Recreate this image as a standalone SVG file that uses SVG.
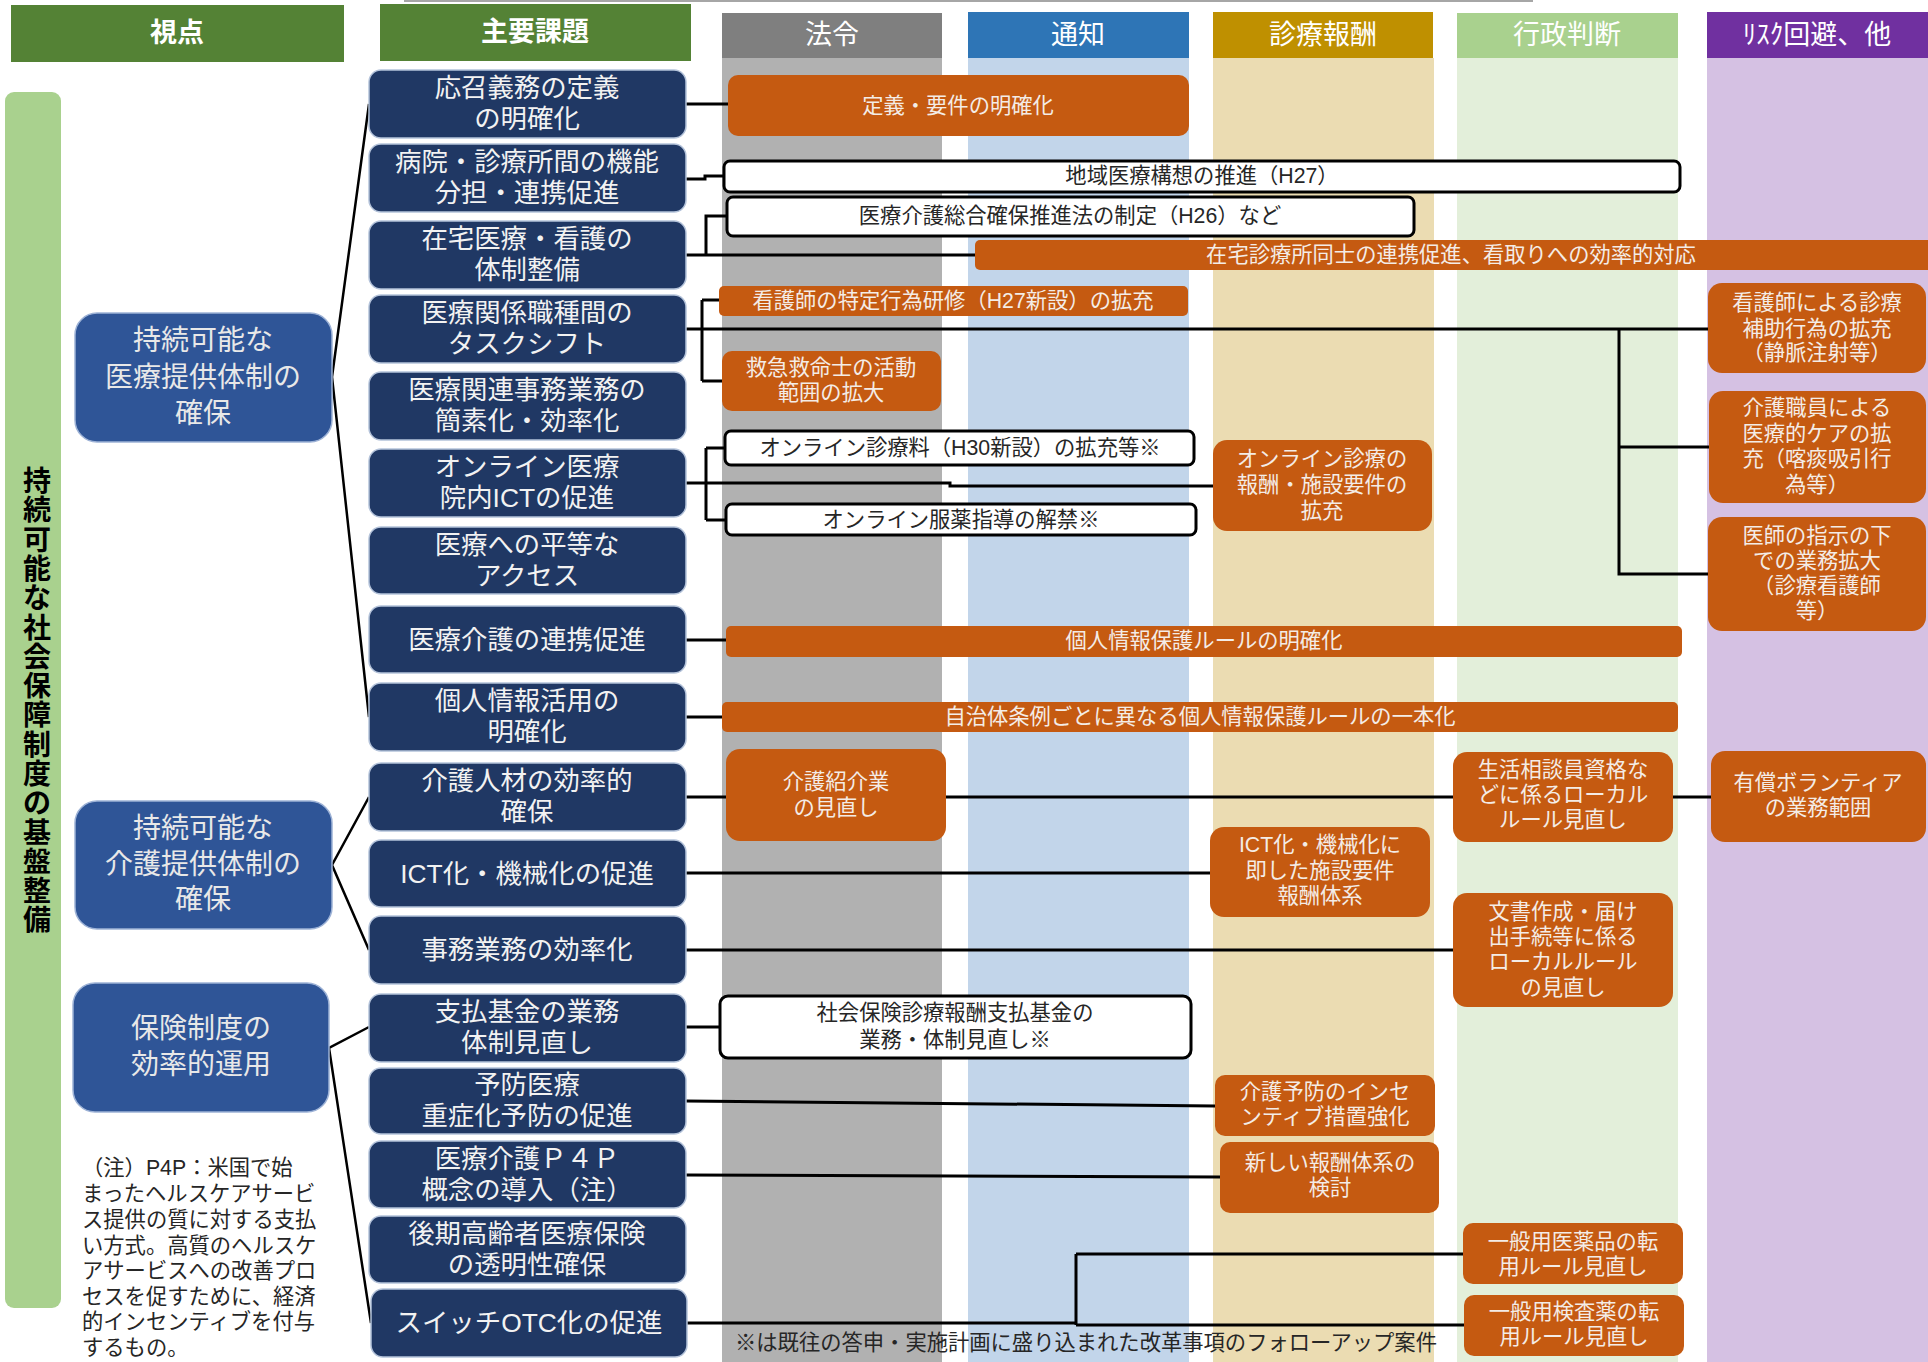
<svg xmlns="http://www.w3.org/2000/svg" width="1928" height="1362" viewBox="0 0 1928 1362">
<style>
text{font-family:"Liberation Sans","Noto Sans CJK JP",sans-serif;text-anchor:middle;dominant-baseline:central}
.hd{font-size:27px;fill:#FFFFFF}
.hdb{font-size:27px;fill:#FFFFFF;font-weight:bold}
.nd rect{fill:#203864;stroke:#B4C3DA;stroke-width:1.5}
.nd text{font-size:26.4px;fill:#F2F2F2}
.vp rect{fill:#2F5597;stroke:#9DB2D6;stroke-width:1.5}
.vp text{font-size:28px;fill:#E8E8E8}
.or rect{fill:#C55A11}
.or text{font-size:21.3px;fill:#F4ECE6}
.wb rect{fill:#FFFFFF;stroke:#000000;stroke-width:3}
.wb text{font-size:21.3px;fill:#262626}
.cn path{fill:none;stroke:#000000;stroke-width:3}
.fan path{fill:none;stroke:#000000;stroke-width:2.5}
.note{font-size:21.3px;fill:#262626;text-anchor:start}
.vt{font-size:28px;font-weight:bold;fill:#000000}
</style>

<!-- top rule -->
<line x1="404" y1="1" x2="1533" y2="1" stroke="#A6A6A6" stroke-width="2"/>

<!-- column backgrounds -->
<g id="columns">
  <rect x="722" y="58" width="220" height="1304" fill="#B1B1B1"/>
  <rect x="968" y="58" width="221" height="1304" fill="#C2D5EA"/>
  <rect x="1213" y="58" width="221" height="1304" fill="#EBDCB2"/>
  <rect x="1457" y="58" width="221" height="1304" fill="#E3EFDA"/>
  <rect x="1707" y="58" width="221" height="1304" fill="#D5C1E3"/>
</g>

<!-- headers -->
<g id="headers">
  <g id="h-viewpoint"><rect x="11" y="5" width="333" height="57" fill="#548235"/><text class="hdb" x="177" y="33">視点</text></g>
  <g id="h-issues"><rect x="380" y="4" width="311" height="57" fill="#548235"/><text class="hdb" x="535" y="32">主要課題</text></g>
  <g id="h-law"><rect x="722" y="13" width="220" height="45" fill="#7F7F7F"/><text class="hd" x="832" y="35">法令</text></g>
  <g id="h-notice"><rect x="968" y="12" width="221" height="46" fill="#2E75B6"/><text class="hd" x="1078" y="35">通知</text></g>
  <g id="h-fee"><rect x="1213" y="12" width="220" height="46" fill="#BF9000"/><text class="hd" x="1323" y="35">診療報酬</text></g>
  <g id="h-admin"><rect x="1457" y="13" width="221" height="45" fill="#A9D18E"/><text class="hd" x="1567" y="35">行政判断</text></g>
  <g id="h-risk"><rect x="1707" y="12" width="221" height="46" fill="#7030A0"/><text class="hd" x="1817" y="35">ﾘｽｸ回避、他</text></g>
</g>

<!-- left vertical bar -->
<g id="base-bar">
  <rect x="5" y="92" width="56" height="1216" rx="9" fill="#A9D18E"/>
  <text class="vt"><tspan x="37" y="481">持</tspan><tspan x="37" y="510">続</tspan><tspan x="37" y="540">可</tspan><tspan x="37" y="569">能</tspan><tspan x="37" y="598">な</tspan><tspan x="37" y="628">社</tspan><tspan x="37" y="657">会</tspan><tspan x="37" y="686">保</tspan><tspan x="37" y="715">障</tspan><tspan x="37" y="745">制</tspan><tspan x="37" y="774">度</tspan><tspan x="37" y="803">の</tspan><tspan x="37" y="833">基</tspan><tspan x="37" y="862">盤</tspan><tspan x="37" y="891">整</tspan><tspan x="37" y="920">備</tspan></text>
</g>

<!-- connectors -->
<g id="connectors">
  <g class="fan">
    <path d="M369,104 L332,377 L369,717"/>
    <path d="M369,797 L332,865 L369,950"/>
    <path d="M369,1027 L329,1048 L371,1323"/>
  </g>
  <g class="cn">
    <path d="M686,104 H728"/>
    <path d="M686,179 H705 V176 H724"/>
    <path d="M686,255 H975 M706,255 V216 H727"/>
    <path d="M686,329 H1708 M702,300 V381 M702,300 H719 M702,381 H722 M1619,329 V574 H1708 M1619,447 H1709"/>
    <path d="M686,483 H950 V486 H1213 M706,448 V520 M706,448 H725 M706,520 H726"/>
    <path d="M686,640 H726"/>
    <path d="M686,717 H722"/>
    <path d="M686,797 H1711"/>
    <path d="M686,873 H1210"/>
    <path d="M686,950 H1453"/>
    <path d="M686,1027 H720"/>
    <path d="M686,1101 L1215,1106"/>
    <path d="M686,1175 L1220,1177"/>
    <path d="M687,1323 H1076 M1076,1254 V1325 M1076,1254 H1463 M1076,1325 H1464"/>
  </g>
</g>

<!-- viewpoint boxes -->
<g id="vp1" class="vp"><rect x="75" y="313" width="257" height="129" rx="22"/><text x="203" y="340">持続可能な</text><text x="203" y="377">医療提供体制の</text><text x="203" y="413">確保</text></g>
<g id="vp2" class="vp"><rect x="75" y="801" width="257" height="128" rx="22"/><text x="203" y="828">持続可能な</text><text x="203" y="864">介護提供体制の</text><text x="203" y="899">確保</text></g>
<g id="vp3" class="vp"><rect x="73" y="983" width="256" height="129" rx="22"/><text x="201" y="1028">保険制度の</text><text x="201" y="1064">効率的運用</text></g>

<!-- main issue nodes -->
<g id="n1" class="nd"><rect x="369" y="70" width="317" height="68" rx="12"/><text x="527" y="88">応召義務の定義</text><text x="527" y="119">の明確化</text></g>
<g id="n2" class="nd"><rect x="369" y="144" width="317" height="68" rx="12"/><text x="527" y="162">病院・診療所間の機能</text><text x="527" y="193">分担・連携促進</text></g>
<g id="n3" class="nd"><rect x="369" y="221" width="317" height="68" rx="12"/><text x="527" y="239">在宅医療・看護の</text><text x="527" y="270">体制整備</text></g>
<g id="n4" class="nd"><rect x="369" y="295" width="317" height="68" rx="12"/><text x="527" y="313">医療関係職種間の</text><text x="527" y="344">タスクシフト</text></g>
<g id="n5" class="nd"><rect x="369" y="372" width="317" height="68" rx="12"/><text x="527" y="390">医療関連事務業務の</text><text x="527" y="421">簡素化・効率化</text></g>
<g id="n6" class="nd"><rect x="369" y="449" width="317" height="68" rx="12"/><text x="527" y="467">オンライン医療</text><text x="527" y="498">院内ICTの促進</text></g>
<g id="n7" class="nd"><rect x="369" y="527" width="317" height="67" rx="12"/><text x="527" y="545">医療への平等な</text><text x="527" y="576">アクセス</text></g>
<g id="n8" class="nd"><rect x="369" y="606" width="317" height="67" rx="12"/><text x="527" y="640">医療介護の連携促進</text></g>
<g id="n9" class="nd"><rect x="369" y="683" width="317" height="68" rx="12"/><text x="527" y="701">個人情報活用の</text><text x="527" y="732">明確化</text></g>
<g id="n10" class="nd"><rect x="369" y="763" width="317" height="68" rx="12"/><text x="527" y="781">介護人材の効率的</text><text x="527" y="812">確保</text></g>
<g id="n11" class="nd"><rect x="369" y="840" width="317" height="67" rx="12"/><text x="527" y="874">ICT化・機械化の促進</text></g>
<g id="n12" class="nd"><rect x="369" y="916" width="317" height="68" rx="12"/><text x="527" y="950">事務業務の効率化</text></g>
<g id="n13" class="nd"><rect x="369" y="994" width="317" height="68" rx="12"/><text x="527" y="1012">支払基金の業務</text><text x="527" y="1043">体制見直し</text></g>
<g id="n14" class="nd"><rect x="369" y="1068" width="317" height="66" rx="12"/><text x="527" y="1085">予防医療</text><text x="527" y="1116">重症化予防の促進</text></g>
<g id="n15" class="nd"><rect x="369" y="1141" width="317" height="67" rx="12"/><text x="527" y="1159">医療介護Ｐ４Ｐ</text><text x="527" y="1190">概念の導入（注）</text></g>
<g id="n16" class="nd"><rect x="369" y="1216" width="317" height="67" rx="12"/><text x="527" y="1234">後期高齢者医療保険</text><text x="527" y="1265">の透明性確保</text></g>
<g id="n17" class="nd"><rect x="371" y="1289" width="316" height="68" rx="12"/><text x="529" y="1323">スイッチOTC化の促進</text></g>

<!-- measure boxes: orange -->
<g id="o1" class="or"><rect x="728" y="75" width="461" height="61" rx="10"/><text x="958" y="106">定義・要件の明確化</text></g>
<g id="o2" class="or"><rect x="975" y="240" width="965" height="30" rx="5"/><text x="1451" y="255">在宅診療所同士の連携促進、看取りへの効率的対応</text></g>
<g id="o3" class="or"><rect x="719" y="286" width="469" height="30" rx="5"/><text x="953" y="301">看護師の特定行為研修（H27新設）の拡充</text></g>
<g id="o4" class="or"><rect x="722" y="351" width="219" height="60" rx="10"/><text x="831" y="368">救急救命士の活動</text><text x="831" y="393">範囲の拡大</text></g>
<g id="o5" class="or"><rect x="1213" y="440" width="219" height="91" rx="14"/><text x="1322" y="459">オンライン診療の</text><text x="1322" y="485">報酬・施設要件の</text><text x="1322" y="511">拡充</text></g>
<g id="o6" class="or"><rect x="1708" y="283" width="218" height="90" rx="14"/><text x="1817" y="303">看護師による診療</text><text x="1817" y="329">補助行為の拡充</text><text x="1817" y="353">（静脈注射等）</text></g>
<g id="o7" class="or"><rect x="1709" y="391" width="217" height="112" rx="14"/><text x="1817" y="408">介護職員による</text><text x="1817" y="434">医療的ケアの拡</text><text x="1817" y="459">充（喀痰吸引行</text><text x="1817" y="485">為等）</text></g>
<g id="o8" class="or"><rect x="1708" y="517" width="218" height="114" rx="14"/><text x="1817" y="536">医師の指示の下</text><text x="1817" y="561">での業務拡大</text><text x="1817" y="586">（診療看護師</text><text x="1817" y="611">等）</text></g>
<g id="o9" class="or"><rect x="726" y="626" width="956" height="31" rx="5"/><text x="1204" y="641">個人情報保護ルールの明確化</text></g>
<g id="o10" class="or"><rect x="722" y="702" width="956" height="30" rx="5"/><text x="1200" y="717">自治体条例ごとに異なる個人情報保護ルールの一本化</text></g>
<g id="o11" class="or"><rect x="726" y="749" width="220" height="92" rx="14"/><text x="836" y="782">介護紹介業</text><text x="836" y="808">の見直し</text></g>
<g id="o12" class="or"><rect x="1453" y="752" width="220" height="90" rx="14"/><text x="1563" y="770">生活相談員資格な</text><text x="1563" y="795">どに係るローカル</text><text x="1563" y="820">ルール見直し</text></g>
<g id="o13" class="or"><rect x="1711" y="751" width="215" height="91" rx="14"/><text x="1818" y="783">有償ボランティア</text><text x="1818" y="808">の業務範囲</text></g>
<g id="o14" class="or"><rect x="1210" y="827" width="220" height="90" rx="14"/><text x="1320" y="845">ICT化・機械化に</text><text x="1320" y="871">即した施設要件</text><text x="1320" y="896">報酬体系</text></g>
<g id="o15" class="or"><rect x="1453" y="893" width="220" height="114" rx="14"/><text x="1563" y="912">文書作成・届け</text><text x="1563" y="937">出手続等に係る</text><text x="1563" y="962">ローカルルール</text><text x="1563" y="988">の見直し</text></g>
<g id="o16" class="or"><rect x="1215" y="1075" width="220" height="61" rx="10"/><text x="1325" y="1092">介護予防のインセ</text><text x="1325" y="1117">ンティブ措置強化</text></g>
<g id="o17" class="or"><rect x="1220" y="1142" width="219" height="71" rx="10"/><text x="1330" y="1163">新しい報酬体系の</text><text x="1330" y="1188">検討</text></g>
<g id="o18" class="or"><rect x="1463" y="1223" width="220" height="61" rx="10"/><text x="1573" y="1242">一般用医薬品の転</text><text x="1573" y="1267">用ルール見直し</text></g>
<g id="o19" class="or"><rect x="1464" y="1295" width="220" height="61" rx="10"/><text x="1574" y="1312">一般用検査薬の転</text><text x="1574" y="1337">用ルール見直し</text></g>

<!-- measure boxes: white -->
<g id="w1" class="wb"><rect x="724" y="161" width="956" height="31" rx="6"/><text x="1202" y="176">地域医療構想の推進（H27）</text></g>
<g id="w2" class="wb"><rect x="727" y="197" width="687" height="39" rx="6"/><text x="1070" y="216">医療介護総合確保推進法の制定（H26）など</text></g>
<g id="w3" class="wb"><rect x="725" y="431" width="469" height="34" rx="6"/><text x="960" y="448">オンライン診療料（H30新設）の拡充等※</text></g>
<g id="w4" class="wb"><rect x="726" y="504" width="470" height="31" rx="6"/><text x="961" y="520">オンライン服薬指導の解禁※</text></g>
<g id="w5" class="wb"><rect x="720" y="996" width="471" height="62" rx="8"/><text x="955" y="1013">社会保険診療報酬支払基金の</text><text x="955" y="1040">業務・体制見直し※</text></g>

<!-- notes -->
<g id="note">
  <text class="note" x="82" y="1168">（注）P4P：米国で始</text>
  <text class="note" x="82" y="1194">まったヘルスケアサービ</text>
  <text class="note" x="82" y="1220">ス提供の質に対する支払</text>
  <text class="note" x="82" y="1246">い方式。高質のヘルスケ</text>
  <text class="note" x="82" y="1271">アサービスへの改善プロ</text>
  <text class="note" x="82" y="1297">セスを促すために、経済</text>
  <text class="note" x="82" y="1322">的インセンティブを付与</text>
  <text class="note" x="82" y="1348">するもの。</text>
</g>
<g id="footnote">
  <text class="note" x="735" y="1343">※は既往の答申・実施計画に盛り込まれた改革事項のフォローアップ案件</text>
</g>
</svg>
